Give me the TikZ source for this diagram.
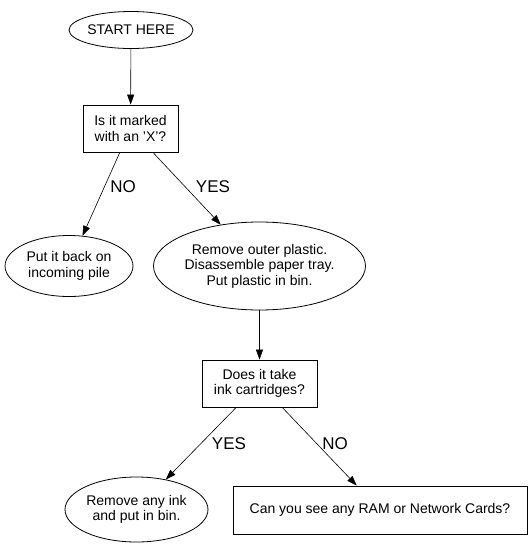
\documentclass[tikz,border=0pt]{standalone}
\usepackage{fontspec}
\setmainfont{Liberation Sans}
\usetikzlibrary{shapes.geometric,arrows.meta}
\begin{document}
\begin{tikzpicture}[x=1pt,y=-1pt,
  every node/.style={inner sep=0pt,align=center,font=\fontsize{14}{15.5}\selectfont},
  oval/.style={draw,ellipse,line width=0.8pt},
  boxnode/.style={draw,rectangle,line width=0.8pt},
  edgelabel/.style={font=\fontsize{17}{19}\selectfont},
  flow/.style={line width=0.6pt,-{Triangle[length=10pt,width=7pt]}}]
\useasboundingbox (0,0) rectangle (532,547);
\node[oval,minimum width=124,minimum height=37] (start) at (131,30) {START HERE};
\node[boxnode,minimum width=95,minimum height=47] (marked) at (130.5,128.5) {Is it marked\\with an 'X'?};
\node[oval,minimum width=128,minimum height=61] (back) at (69,266) {Put it back on\\incoming pile};
\node[oval,minimum width=205,minimum height=88] (remove) at (259.5,266) {Remove outer plastic.\\Disassemble paper tray.\\Put plastic in bin.};
\node[boxnode,minimum width=115,minimum height=47] (ink) at (259.5,383.5) {Does it take\\ink cartridges?};
\node[oval,minimum width=143,minimum height=65] (inkbin) at (136.5,509.5) {Remove any ink\\and put in bin.};
\node[boxnode,minimum width=294,minimum height=48] (ram) at (380,510) {Can you see any RAM or Network Cards?};
\draw[flow] (start) -- (marked);
\draw[flow] (marked) -- (back);
\draw[flow] (marked) -- (remove);
\draw[flow] (remove) -- (ink);
\draw[flow] (ink) -- (inkbin);
\draw[flow] (ink) -- (ram);
\node[edgelabel] (lno1) at (123,187) {NO};
\node[edgelabel] (lyes1) at (213,187) {YES};
\node[edgelabel] (lyes2) at (229,444) {YES};
\node[edgelabel] (lno2) at (335,444) {NO};
\end{tikzpicture}
\end{document}
